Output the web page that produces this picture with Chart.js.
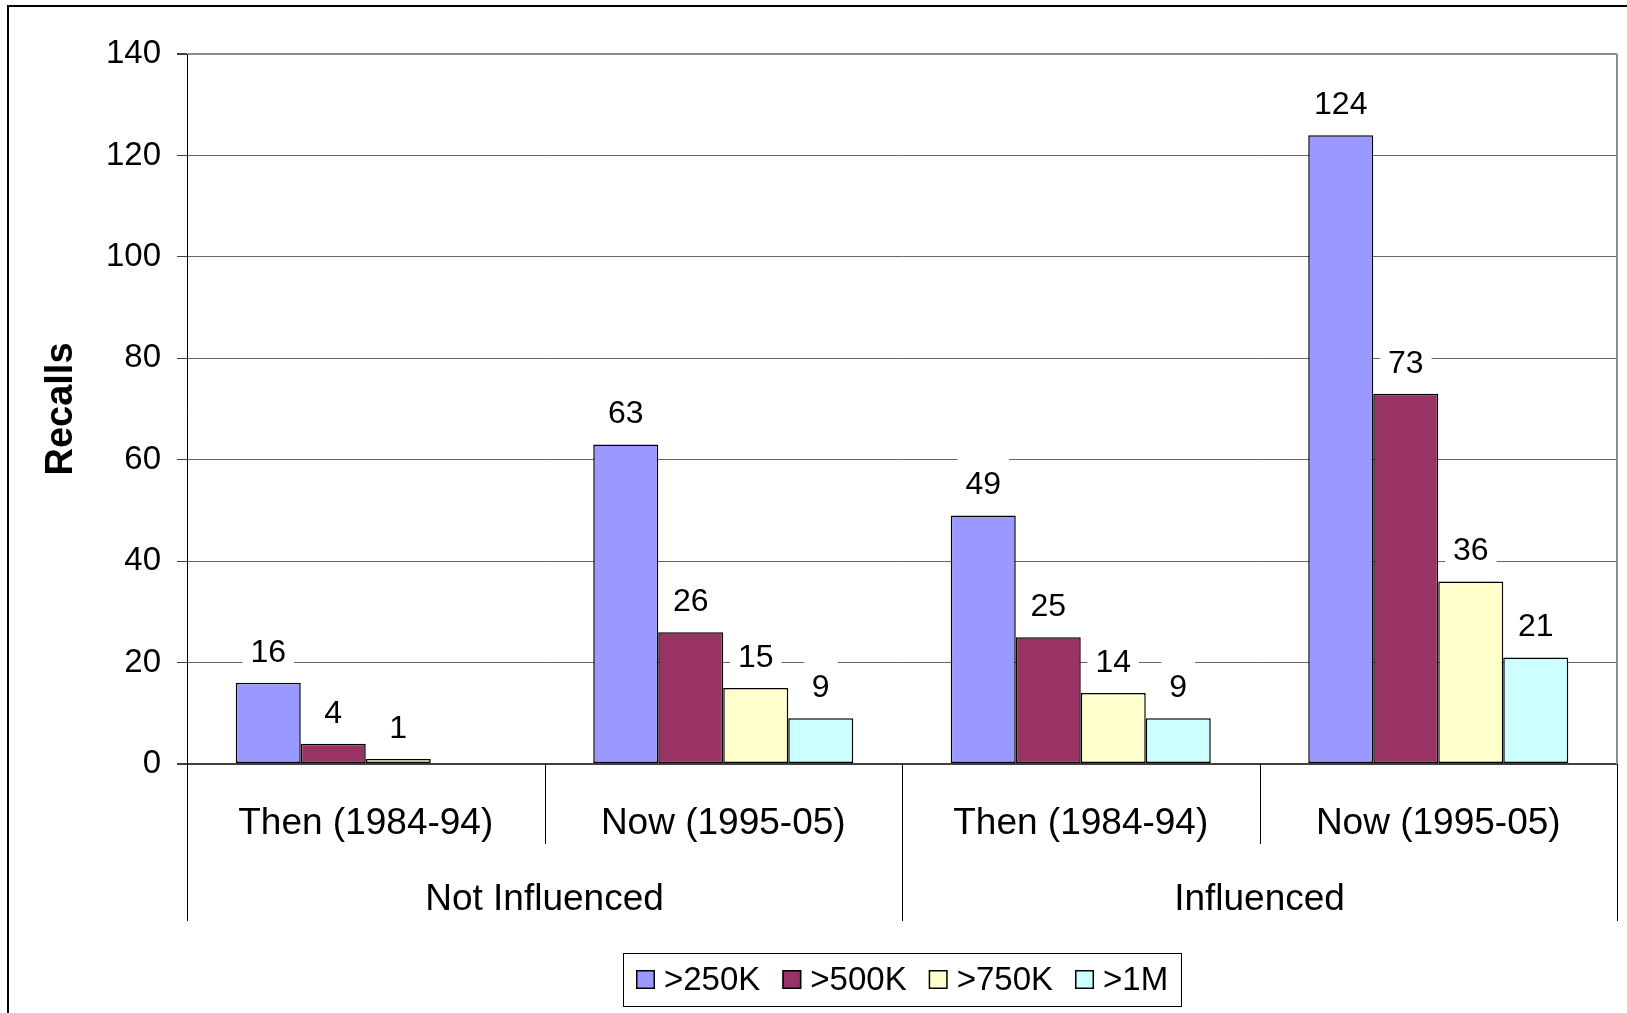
<!DOCTYPE html>
<html><head><meta charset="utf-8">
<script src="https://cdn.jsdelivr.net/npm/chart.js@4.4.1/dist/chart.umd.min.js"></script>
<style>html,body{margin:0;padding:0;background:#fff;overflow:hidden}canvas{display:block}</style>
</head><body>
<canvas id="c" width="1627" height="1013"></canvas>
<script>
const categories = ["Then (1984-94)", "Now (1995-05)", "Then (1984-94)", "Now (1995-05)"];
const groups = ["Not Influenced", "Influenced"];
const seriesNames = [">250K", ">500K", ">750K", ">1M"];
const s250K = [16, 63, 49, 124];
const s500K = [4, 26, 25, 73];
const s750K = [1, 15, 14, 36];
const s1M = [null, 9, 9, 21];
const yTicks = [0, 20, 40, 60, 80, 100, 120, 140];
const yTitle = "Recalls";
const colors = ["#9999FF", "#993366", "#FFFFCC", "#CCFFFF"];
const FONT = '"Liberation Sans", Arial, sans-serif';

const seriesValues = [s250K, s500K, s750K, s1M];

const decor = {
  id: 'decor',
  beforeDraw(chart) {
    const c = chart.ctx; c.save(); c.fillStyle = '#fff'; c.fillRect(0, 0, chart.width, chart.height); c.restore();
  },
  afterDatasetsDraw(chart) {
    const ctx = chart.ctx; ctx.save();
    ctx.font = '32px ' + FONT; ctx.textAlign = 'center'; ctx.textBaseline = 'middle';
    chart.data.datasets.forEach((ds, di) => {
      const meta = chart.getDatasetMeta(di);
      meta.data.forEach((el, i) => {
        const v = ds.data[i]; if (v == null) return;
        const t = String(v); const w = ctx.measureText(t).width;
        const y = el.y - 31;
        ctx.fillStyle = '#fff'; ctx.fillRect(el.x - w / 2 - 8, y - 26, w + 16, 52);
        ctx.fillStyle = '#000'; ctx.fillText(t, el.x, y + 1);
      });
    });
    ctx.restore();
  },
  afterDraw(chart) {
    const ctx = chart.ctx, a = chart.chartArea, x = chart.scales.x;
    const n = categories.length; const cw = (a.right - a.left) / n;
    ctx.save();
    ctx.strokeStyle = '#8c8c8c'; ctx.lineWidth = 2;
    ctx.beginPath(); ctx.moveTo(a.right, a.top); ctx.lineTo(a.right, a.bottom); ctx.stroke();
    ctx.strokeStyle = '#000'; ctx.lineWidth = 1;
    for (let i = 0; i <= n; i++) {
      const raw = i < n ? x.getPixelForValue(i) - cw / 2 : x.getPixelForValue(n - 1) + cw / 2;
      const px = Math.round(raw) + 0.5;
      const len = (i % 2 === 0) ? 157 : 80;
      ctx.beginPath(); ctx.moveTo(px, a.bottom); ctx.lineTo(px, a.bottom + len); ctx.stroke();
    }
    ctx.fillStyle = '#000'; ctx.textAlign = 'center'; ctx.textBaseline = 'middle';
    ctx.font = '37px ' + FONT;
    categories.forEach((c, i) => ctx.fillText(c, x.getPixelForValue(i), a.bottom + 60));
    groups.forEach((g, gi) => {
      const l = x.getPixelForValue(gi * 2) - cw / 2, r = x.getPixelForValue(gi * 2 + 1) + cw / 2;
      ctx.fillText(g, (l + r) / 2, a.bottom + 136);
    });
    ctx.lineWidth = 2; ctx.strokeStyle = '#000';
    ctx.strokeRect(8, 6, 2000, 2000);
    ctx.font = '33px ' + FONT; ctx.textAlign = 'left';
    const box = 19, gapT = 9, gapI = 22, padX = 13;
    const widths = seriesNames.map(s => ctx.measureText(s).width);
    let total = widths.reduce((s, w) => s + box + gapT + w, 0) + gapI * (seriesNames.length - 1);
    const cx = (a.left + a.right) / 2;
    const L = Math.round(cx - total / 2 - padX);
    const top = 953, h = 53, cy = top + h / 2;
    ctx.lineWidth = 1; ctx.strokeStyle = '#000';
    ctx.strokeRect(L + 0.5, top + 0.5, Math.round(total + 2 * padX), h);
    let px = L + padX;
    ctx.lineWidth = 1.5;
    seriesNames.forEach((s, i) => {
      ctx.fillStyle = colors[i];
      ctx.fillRect(px, cy - box / 2, box, box);
      ctx.strokeRect(px + 0.75, cy - box / 2 + 0.75, box - 1.5, box - 1.5);
      ctx.fillStyle = '#000';
      ctx.fillText(s, px + box + gapT, cy + 1);
      px += box + gapT + widths[i] + gapI;
    });
    ctx.translate(62, (a.top + a.bottom) / 2);
    ctx.rotate(-Math.PI / 2);
    ctx.font = 'bold 38px ' + FONT; ctx.textAlign = 'center';
    ctx.fillText(yTitle, 0, 0);
    ctx.restore();
  }
};

new Chart(document.getElementById('c'), {
  type: 'bar',
  data: {
    labels: categories,
    datasets: seriesNames.map((name, i) => ({
      label: name,
      data: seriesValues[i],
      backgroundColor: colors[i],
      borderColor: '#000',
      borderWidth: 1.5,
      borderSkipped: false,
      categoryPercentage: 0.7273,
      barPercentage: 1
    }))
  },
  options: {
    responsive: false,
    animation: false,
    devicePixelRatio: 1,
    layout: { padding: { top: 54, right: 10, bottom: 249, left: 0 } },
    plugins: { legend: { display: false }, tooltip: { enabled: false } },
    scales: {
      x: { display: false },
      y: {
        min: 0, max: 140,
        afterBuildTicks: s => { s.ticks = yTicks.map(v => ({ value: v })); },
        afterFit: s => { s.width = 187; },
        ticks: { font: { family: FONT, size: 33 }, color: '#000', padding: 16 },
        grid: {
          color: c => c.tick && c.tick.value === 0 ? '#404040' : (c.tick && c.tick.value === 140 ? '#8c8c8c' : '#666'),
          lineWidth: c => c.tick && (c.tick.value === 0 || c.tick.value === 140) ? 2 : 1,
          tickColor: '#404040', tickLength: 10, drawTicks: true
        },
        border: { display: true, color: '#000', width: 1 }
      }
    }
  },
  plugins: [decor]
});
</script>
</body></html>
